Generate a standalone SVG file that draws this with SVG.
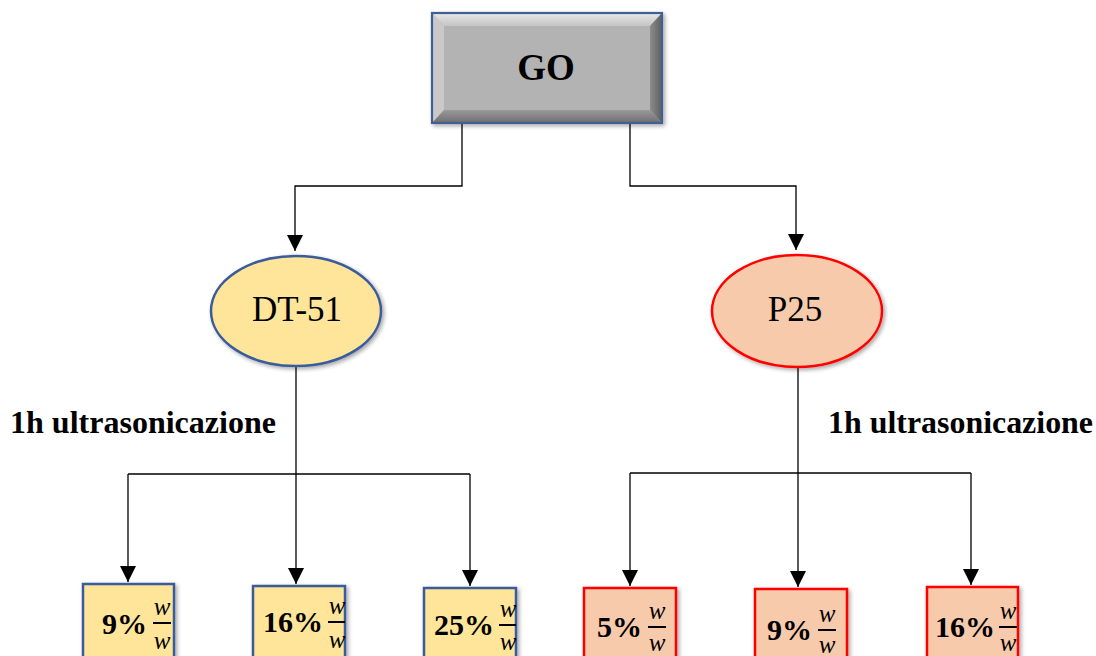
<svg xmlns="http://www.w3.org/2000/svg" width="1096" height="656" viewBox="0 0 1096 656">
  <defs>
    <marker id="arr" viewBox="0 0 16 16" refX="16" refY="8" markerWidth="16" markerHeight="16" markerUnits="userSpaceOnUse" orient="auto">
      <path d="M0,0 L16,8 L0,16 Z" fill="#000"/>
    </marker>
    <filter id="sh" x="-20%" y="-20%" width="140%" height="140%">
      <feGaussianBlur in="SourceAlpha" stdDeviation="2"/>
      <feOffset dx="2" dy="2" result="b"/>
      <feComponentTransfer><feFuncA type="linear" slope="0.35"/></feComponentTransfer>
      <feMerge><feMergeNode/><feMergeNode in="SourceGraphic"/></feMerge>
    </filter>
    <linearGradient id="topb" x1="0" y1="0" x2="0" y2="1">
      <stop offset="0" stop-color="#e8e8e8"/><stop offset="1" stop-color="#c4c4c4"/>
    </linearGradient>
    <linearGradient id="botb" x1="0" y1="0" x2="0" y2="1">
      <stop offset="0" stop-color="#9a9a9a"/><stop offset="1" stop-color="#6e6e6e"/>
    </linearGradient>
    <linearGradient id="rgtb" x1="0" y1="0" x2="1" y2="0">
      <stop offset="0" stop-color="#8c8c8c"/><stop offset="1" stop-color="#5e5e5e"/>
    </linearGradient>
  </defs>
  <style>
    .conn{fill:none;stroke:#000;stroke-width:1.3}
    .lbl{font-family:"Liberation Serif",serif;font-weight:bold;font-size:32px;fill:#000}
    .pct{font-family:"Liberation Serif",serif;font-weight:bold;font-size:30px;fill:#000}
    .fw{font-family:"Liberation Serif",serif;font-style:italic;font-size:25px;fill:#000;text-anchor:middle}
    .ell{font-family:"Liberation Serif",serif;font-size:35px;fill:#000;text-anchor:middle}
    .yb{fill:#fee59a;stroke:#3b5b9a;stroke-width:2.5}
    .ob{fill:#f7caac;stroke:#ff0000;stroke-width:2.5}
    .bar{stroke:#000;stroke-width:2}
  </style>
  <rect width="1096" height="656" fill="#fff"/>

  <g id="connectors">
    <path class="conn" d="M462,123 V186 H295 V251" marker-end="url(#arr)"/>
    <path class="conn" d="M630,123 V186 H796 V250" marker-end="url(#arr)"/>
    <path class="conn" d="M296,367 V584" marker-end="url(#arr)"/>
    <path class="conn" d="M128,474 H470"/>
    <path class="conn" d="M128,474 V582" marker-end="url(#arr)"/>
    <path class="conn" d="M470,474 V586" marker-end="url(#arr)"/>
    <path class="conn" d="M798,367 V587" marker-end="url(#arr)"/>
    <path class="conn" d="M630,473 H971"/>
    <path class="conn" d="M630,473 V586" marker-end="url(#arr)"/>
    <path class="conn" d="M971,473 V585" marker-end="url(#arr)"/>
  </g>

  <g id="go">
    <g filter="url(#sh)">
      <rect x="432" y="13" width="230" height="110" fill="#b3b3b3"/>
      <polygon points="432,13 662,13 650,26 444,26" fill="url(#topb)"/>
      <polygon points="432,13 444,26 444,110 432,123" fill="#c9c9c9"/>
      <polygon points="662,13 662,123 650,110 650,26" fill="url(#rgtb)"/>
      <polygon points="432,123 444,110 650,110 662,123" fill="url(#botb)"/>
      <rect x="432" y="13" width="230" height="110" fill="none" stroke="#3f5f94" stroke-width="2.2"/>
    </g>
    <text x="546" y="80" font-family="Liberation Serif,serif" font-weight="bold" font-size="37" text-anchor="middle">GO</text>
  </g>

  <g id="dt51">
    <ellipse class="yb" cx="296" cy="311" rx="85" ry="55" filter="url(#sh)"/>
    <text class="ell" x="297" y="321">DT-51</text>
  </g>
  <g id="p25">
    <ellipse class="ob" cx="797" cy="311" rx="85" ry="56" filter="url(#sh)"/>
    <text class="ell" x="795" y="321">P25</text>
  </g>

  <g id="label-left"><text class="lbl" x="10" y="433" textLength="266" lengthAdjust="spacingAndGlyphs">1h ultrasonicazione</text></g>
  <g id="label-right"><text class="lbl" x="828" y="433" textLength="265" lengthAdjust="spacingAndGlyphs">1h ultrasonicazione</text></g>

  <g id="box-dt-9">
    <rect class="yb" x="83" y="584" width="91" height="90" filter="url(#sh)"/>
    <text class="pct" x="102" y="634">9%</text>
    <text class="fw" x="162" y="615">w</text><line class="bar" x1="153" y1="623" x2="171" y2="623"/><text class="fw" x="162" y="649">w</text>
  </g>
  <g id="box-dt-16">
    <rect class="yb" x="253" y="586" width="92" height="90" filter="url(#sh)"/>
    <text class="pct" x="263" y="632">16%</text>
    <text class="fw" x="337" y="614">w</text><line class="bar" x1="328" y1="622" x2="345" y2="622"/><text class="fw" x="337" y="648">w</text>
  </g>
  <g id="box-dt-25">
    <rect class="yb" x="424" y="588" width="92" height="90" filter="url(#sh)"/>
    <text class="pct" x="434" y="635">25%</text>
    <text class="fw" x="508" y="617">w</text><line class="bar" x1="499" y1="625" x2="516" y2="625"/><text class="fw" x="508" y="650">w</text>
  </g>
  <g id="box-p-5">
    <rect class="ob" x="584" y="588" width="92" height="90" filter="url(#sh)"/>
    <text class="pct" x="597" y="637">5%</text>
    <text class="fw" x="657" y="619">w</text><line class="bar" x1="648" y1="627" x2="666" y2="627"/><text class="fw" x="657" y="651">w</text>
  </g>
  <g id="box-p-9">
    <rect class="ob" x="755" y="589" width="92" height="90" filter="url(#sh)"/>
    <text class="pct" x="767" y="640">9%</text>
    <text class="fw" x="827" y="622">w</text><line class="bar" x1="818" y1="630" x2="836" y2="630"/><text class="fw" x="827" y="653">w</text>
  </g>
  <g id="box-p-16">
    <rect class="ob" x="927" y="587" width="91" height="90" filter="url(#sh)"/>
    <text class="pct" x="935" y="637">16%</text>
    <text class="fw" x="1008" y="619">w</text><line class="bar" x1="999" y1="627" x2="1017" y2="627"/><text class="fw" x="1008" y="651">w</text>
  </g>
</svg>
